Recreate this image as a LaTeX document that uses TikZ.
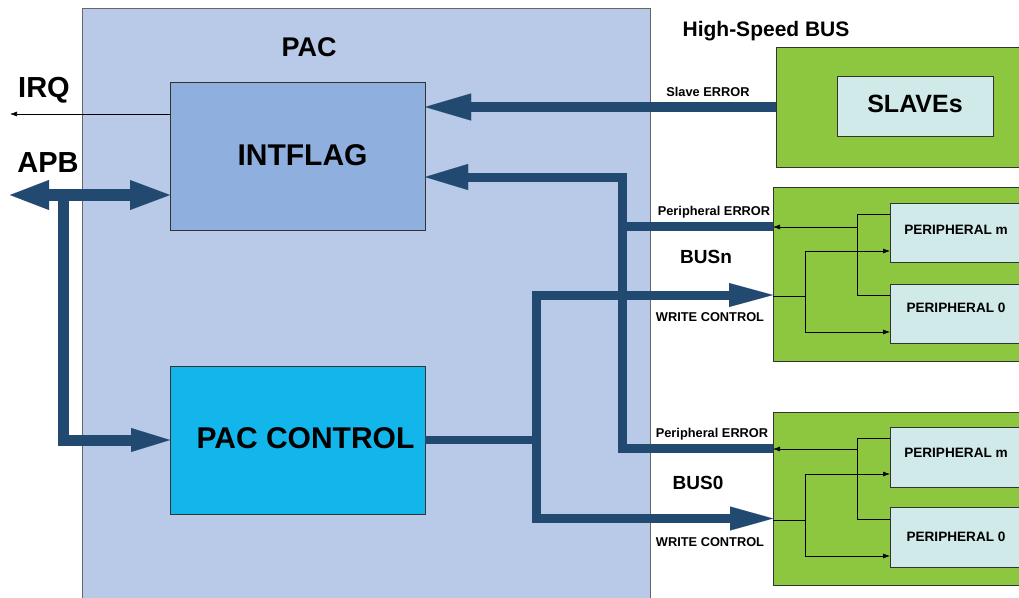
\documentclass[tikz,border=0pt]{standalone}
\usepackage{fontspec}
\setmainfont{Liberation Sans}
\usetikzlibrary{arrows.meta,calc}
\definecolor{pacbg}{HTML}{B9CAE8}
\definecolor{intf}{HTML}{8FB0DE}
\definecolor{pcc}{HTML}{12B6EB}
\definecolor{grn}{HTML}{8DC63F}
\definecolor{perf}{HTML}{D0E9E9}
\definecolor{busc}{HTML}{224A70}
\begin{document}
\begin{tikzpicture}[x=1pt,y=-1pt,
  box/.style={draw=black!80, line width=0.7pt, rectangle, inner sep=0pt, outer sep=0pt},
  pacbox/.style={box, draw=black!60, fill=pacbg},
  greenbox/.style={box, fill=grn},
  perbox/.style={box, fill=perf, font=\bfseries\fontsize{13.6}{16}\selectfont},
  lbl/.style={inner sep=0pt, font=\bfseries#1},
  bus/.style={draw=busc, line cap=butt, line join=miter},
  wire/.style={draw=black, line width=0.6pt},
  small/.style={-{Latex[length=7pt,width=5pt]}},
  smallboth/.style={{Latex[length=7pt,width=5pt]}-{Latex[length=7pt,width=5pt]}}
]
\useasboundingbox (0,0) rectangle (1019,597);
\clip (0,0) rectangle (1019,597);

% PAC region
\node[pacbox, minimum width=568pt, minimum height=604pt] (pac) at (366,310) {};
\node[lbl=\fontsize{27}{32}\selectfont] (paclbl) at (309,47) {PAC};

% blocks
\node[box, fill=intf, minimum width=255pt, minimum height=148pt,
  label={[lbl=\fontsize{30}{35}\selectfont, xshift=5pt, yshift=1pt]center:INTFLAG}] (intflag) at (297.5,156) {};
\node[box, fill=pcc, minimum width=255pt, minimum height=148pt,
  label={[lbl=\fontsize{30}{35}\selectfont, xshift=8pt, yshift=2pt]center:PAC CONTROL}] (paccontrol) at (297.5,440) {};

% right side boxes
\node[greenbox, minimum width=249pt, minimum height=120pt] (hs) at (900.5,107) {};
\node[box, fill=perf, minimum width=156pt, minimum height=60pt,
  font=\bfseries\fontsize{25}{30}\selectfont] (slaves) at (915,106) {\raisebox{5pt}{SLAVEs}};
\node[lbl=\fontsize{21}{25}\selectfont] (hslbl) at (766,31) {High-Speed BUS};

\node[greenbox, minimum width=252pt, minimum height=174pt] (gn) at (899,274) {};
\node[perbox, minimum width=132pt, minimum height=59pt] (pm1) at (956,232.5) {\raisebox{5pt}{PERIPHERAL m}};
\node[perbox, minimum width=132pt, minimum height=59pt] (p01) at (956,313.5) {\raisebox{11pt}{PERIPHERAL 0}};

\node[greenbox, minimum width=252pt, minimum height=173pt] (g0) at (899,498.5) {};
\node[perbox, minimum width=132pt, minimum height=60pt] (pm0) at (956,457) {\raisebox{8pt}{PERIPHERAL m}};
\node[perbox, minimum width=132pt, minimum height=60pt] (p00) at (956,537) {\raisebox{1pt}{PERIPHERAL 0}};

% labels
\node[lbl=\fontsize{29}{34}\selectfont] (irqlbl) at (44,90) {IRQ};
\node[lbl=\fontsize{29}{34}\selectfont] (apblbl) at (48,163) {APB};
\node[lbl=\fontsize{12.8}{15}\selectfont] (slerr) at (708,92) {Slave ERROR};
\node[lbl=\fontsize{12.8}{15}\selectfont] (pe1lbl) at (714,212) {Peripheral ERROR};
\node[lbl=\fontsize{12.8}{15}\selectfont] (pe0lbl) at (712,434) {Peripheral ERROR};
\node[lbl=\fontsize{19}{23}\selectfont] (busnlbl) at (706,257) {BUSn};
\node[lbl=\fontsize{19}{23}\selectfont] (bus0lbl) at (698,483) {BUS0};
\node[lbl=\fontsize{12.8}{15}\selectfont] (wc1lbl) at (710,317) {WRITE CONTROL};
\node[lbl=\fontsize{12.8}{15}\selectfont] (wc0lbl) at (710,542) {WRITE CONTROL};

% coordinates
\coordinate (irq) at (10,114);
\coordinate (apbL) at (10,195);
\coordinate (apbC) at (63.5,195);
\coordinate (fbtop) at (622.5,177);
\coordinate (fbbot) at (622.5,448);
\coordinate (pe1) at (622.5,226);
\coordinate (wcT) at (536.5,295);
\coordinate (wcB) at (536.5,518.5);

% IRQ
\draw[wire, small] (irq -| intflag.west) -- (irq);

% APB bus
\draw[bus, line width=12pt, {Triangle[width=30pt,length=39pt,line width=0.01pt]}-{Triangle[width=30pt,length=40pt,line width=0.01pt]}]
  (apbL) -- (apbL -| intflag.west);
\draw[bus, line width=11pt, -{Triangle[width=24pt,length=39pt,line width=0.01pt]}]
  (apbC) -- (apbC |- paccontrol.west) -- (paccontrol.west);

% Slave error
\draw[bus, line width=10pt, -{Triangle[width=27pt,length=46pt,line width=0.01pt]}]
  (hs.west) -- (hs.west -| intflag.east);

% Peripheral error feedback
\draw[bus, line width=9pt, -{Triangle[width=26pt,length=43pt,line width=0.01pt]}]
  (fbbot -| g0.west) -- (fbbot) -- (fbtop) -- (fbtop -| intflag.east);
\draw[bus, line width=9pt] (pe1 -| gn.west) -- (pe1);

% Write control
\draw[bus, line width=8pt] (paccontrol.east) -- (paccontrol.east -| wcT);
\draw[bus, line width=9pt, {Triangle[width=24pt,length=44pt,line width=0.01pt]}-{Triangle[width=24pt,length=43pt,line width=0.01pt]}]
  (wcT -| gn.west) -- (wcT) -- (wcB) -- (wcB -| g0.west);

% inner wiring BUSn
\draw[wire] ([yshift=-11pt]pm1.north west) -- ++(-33,0) |- ([yshift=-11pt]p01.north west);
\coordinate (e1) at (857,227);
\draw[wire, small] (e1) -- (e1 -| gn.west);
\coordinate (w1) at (805,296);
\draw[wire] (w1 -| gn.west) -- (w1);
\draw[wire, smallboth] ([yshift=11pt]pm1.south west) -| (w1) |- ([yshift=11pt]p01.south west);

% inner wiring BUS0
\draw[wire] ([yshift=-11pt]pm0.north west) -- ++(-33,0) |- ([yshift=-12pt]p00.north west);
\coordinate (e0) at (857,449);
\draw[wire, small] (e0) -- (e0 -| g0.west);
\coordinate (w0) at (805,520);
\draw[wire] (w0 -| g0.west) -- (w0);
\draw[wire, smallboth] ([yshift=13pt]pm0.south west) -| (w0) |- ([yshift=11pt]p00.south west);
\end{tikzpicture}
\end{document}
